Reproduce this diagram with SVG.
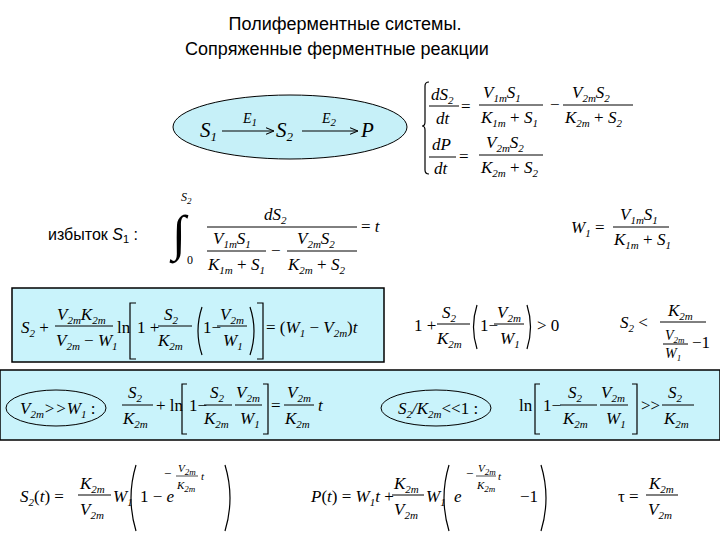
<svg xmlns="http://www.w3.org/2000/svg" width="720" height="540" viewBox="0 0 720 540">
<defs>
<style>
text{font-family:"Liberation Serif",serif;font-size:17px;fill:#000}
.i{font-style:italic}
.s{font-size:11px}
.ss{font-size:9px}
.sm{font-size:13px}
.t{font-family:"Liberation Sans",Arial,sans-serif;font-size:18px}
.fl{stroke:#000;stroke-width:1;fill:none}
.br{stroke:#000;stroke-width:1.2;fill:none}
.bx{fill:#c9f3fb;stroke:#000;stroke-width:1.5}
</style>
<marker id="ar" viewBox="0 0 10 10" refX="10" refY="5" markerWidth="8" markerHeight="8" orient="auto"><path d="M0,1 L10,5 L0,9" fill="none" stroke="#000" stroke-width="1.3"/></marker>
</defs>
<rect width="720" height="540" fill="#fff"/>
<g id="title">
<text class="t" x="345" y="30" text-anchor="middle">Полиферментные системы.</text>
<text class="t" x="337" y="55" text-anchor="middle">Сопряженные ферментные реакции</text>
</g>
<g id="scheme">
<ellipse cx="290" cy="127" rx="117" ry="32" fill="#c6f0f8" stroke="#000"/>
<text class="i" x="200" y="137" style="font-size:21px">S<tspan class="sm" dy="4">1</tspan></text>
<text class="i" x="276" y="137" style="font-size:21px">S<tspan class="sm" dy="4">2</tspan></text>
<text class="i" x="361" y="137" style="font-size:21px">P</text>
<text class="i" x="243" y="123" style="font-size:14px">E<tspan class="s" dy="3">1</tspan></text>
<text class="i" x="322" y="123" style="font-size:14px">E<tspan class="s" dy="3">2</tspan></text>
</g>
<g id="connectors">
<line x1="222" y1="131" x2="274" y2="131" stroke="#000" marker-end="url(#ar)"/>
<line x1="302" y1="131" x2="358" y2="131" stroke="#000" marker-end="url(#ar)"/>
</g>
<g id="system">
<path class="br" d="M429,82 q-4,0 -4,4 v36 q0,4 -3,4 q3,0 3,4 v40 q0,4 4,4"/>
<text class="i" x="431" y="100">dS<tspan class="s" dy="4">2</tspan></text>
<line class="fl" x1="429" y1="106" x2="459" y2="106"/>
<text class="i" x="436" y="124">dt</text>
<text x="461" y="112">=</text>
<text class="i" x="483" y="98">V<tspan class="s" dy="4">1m</tspan><tspan dy="-4">S</tspan><tspan class="s" dy="4">1</tspan></text>
<line class="fl" x1="479" y1="105" x2="543" y2="105"/>
<text class="i" x="481" y="123">K<tspan class="s" dy="4">1m</tspan><tspan dy="-4" style="font-style:normal"> + </tspan><tspan>S</tspan><tspan class="s" dy="4">1</tspan></text>
<text x="550" y="110">−</text>
<text class="i" x="572" y="98">V<tspan class="s" dy="4">2m</tspan><tspan dy="-4">S</tspan><tspan class="s" dy="4">2</tspan></text>
<line class="fl" x1="563" y1="105" x2="633" y2="105"/>
<text class="i" x="565" y="123">K<tspan class="s" dy="4">2m</tspan><tspan dy="-4" style="font-style:normal"> + </tspan><tspan>S</tspan><tspan class="s" dy="4">2</tspan></text>
<text class="i" x="432" y="150">dP</text>
<line class="fl" x1="429" y1="157" x2="456" y2="157"/>
<text class="i" x="434" y="174">dt</text>
<text x="459" y="162">=</text>
<text class="i" x="486" y="148">V<tspan class="s" dy="4">2m</tspan><tspan dy="-4">S</tspan><tspan class="s" dy="4">2</tspan></text>
<line class="fl" x1="479" y1="155" x2="543" y2="155"/>
<text class="i" x="481" y="173">K<tspan class="s" dy="4">2m</tspan><tspan dy="-4" style="font-style:normal"> + </tspan><tspan>S</tspan><tspan class="s" dy="4">2</tspan></text>
</g>
<g id="integral">
<text class="t" x="48" y="240" style="font-size:16px">избыток <tspan font-style="italic">S</tspan><tspan class="s" dy="3">1</tspan><tspan dy="-3"> :</tspan></text>
<text x="172" y="250" style="font-size:50px">∫</text>
<text class="i" x="181" y="201" style="font-size:12px">S<tspan class="ss" dy="3">2</tspan></text>
<text x="187" y="264" style="font-size:12px">0</text>
<text class="i" x="264" y="220">dS<tspan class="s" dy="4">2</tspan></text>
<line class="fl" x1="207" y1="227" x2="357" y2="227"/>
<text class="i" x="213" y="244">V<tspan class="s" dy="4">1m</tspan><tspan dy="-4">S</tspan><tspan class="s" dy="4">1</tspan></text>
<line class="fl" x1="207" y1="251" x2="266" y2="251"/>
<text class="i" x="208" y="270">K<tspan class="s" dy="4">1m</tspan><tspan dy="-4" style="font-style:normal"> + </tspan><tspan>S</tspan><tspan class="s" dy="4">1</tspan></text>
<text x="271" y="256">−</text>
<text class="i" x="297" y="244">V<tspan class="s" dy="4">2m</tspan><tspan dy="-4">S</tspan><tspan class="s" dy="4">2</tspan></text>
<line class="fl" x1="287" y1="251" x2="357" y2="251"/>
<text class="i" x="288" y="270">K<tspan class="s" dy="4">2m</tspan><tspan dy="-4" style="font-style:normal"> + </tspan><tspan>S</tspan><tspan class="s" dy="4">2</tspan></text>
<text x="361" y="232">= <tspan class="i">t</tspan></text>
</g>
<g id="w1">
<text class="i" x="571" y="233">W<tspan class="s" dy="4">1</tspan><tspan dy="-4" style="font-style:normal"> =</tspan></text>
<text class="i" x="620" y="220">V<tspan class="s" dy="4">1m</tspan><tspan dy="-4">S</tspan><tspan class="s" dy="4">1</tspan></text>
<line class="fl" x1="613" y1="227" x2="669" y2="227"/>
<text class="i" x="614" y="245">K<tspan class="s" dy="4">1m</tspan><tspan dy="-4" style="font-style:normal"> + </tspan><tspan>S</tspan><tspan class="s" dy="4">1</tspan></text>
</g>
<g id="box1">
<rect class="bx" x="12" y="288" width="372" height="74"/>
<text class="i" x="21" y="333">S<tspan class="s" dy="4">2</tspan><tspan dy="-4" style="font-style:normal"> +</tspan></text>
<text class="i" x="57" y="320">V<tspan class="s" dy="4">2m</tspan><tspan dy="-4">K</tspan><tspan class="s" dy="4">2m</tspan></text>
<line class="fl" x1="55" y1="326" x2="113" y2="326"/>
<text class="i" x="56" y="346">V<tspan class="s" dy="4">2m</tspan><tspan dy="-4" style="font-style:normal"> − </tspan><tspan>W</tspan><tspan class="s" dy="4">1</tspan></text>
<text x="117" y="333">ln</text>
<path class="br" d="M136,303 h-6 v56 h6"/>
<text x="137" y="333">1 +</text>
<text class="i" x="164" y="320">S<tspan class="s" dy="4">2</tspan></text>
<line class="fl" x1="158" y1="326" x2="192" y2="326"/>
<text class="i" x="158" y="346">K<tspan class="s" dy="4">2m</tspan></text>
<path class="br" d="M202,307 q-8,24 0,48"/>
<text x="203" y="333">1−</text>
<text class="i" x="220" y="320">V<tspan class="s" dy="4">2m</tspan></text>
<line class="fl" x1="217" y1="326" x2="247" y2="326"/>
<text class="i" x="223" y="346">W<tspan class="s" dy="4">1</tspan></text>
<path class="br" d="M250,307 q8,24 0,48"/>
<path class="br" d="M257,303 h6 v56 h-6"/>
<text x="266" y="333">= (<tspan class="i">W</tspan><tspan class="s i" dy="4">1</tspan><tspan dy="-4"> − </tspan><tspan class="i">V</tspan><tspan class="s i" dy="4">2m</tspan><tspan dy="-4">)</tspan><tspan class="i">t</tspan></text>
</g>
<g id="condition">
<text x="414" y="331">1 +</text>
<text class="i" x="442" y="318">S<tspan class="s" dy="4">2</tspan></text>
<line class="fl" x1="437" y1="324" x2="470" y2="324"/>
<text class="i" x="437" y="344">K<tspan class="s" dy="4">2m</tspan></text>
<path class="br" d="M477,305 q-7,22 0,44"/>
<text x="480" y="331">1−</text>
<text class="i" x="497" y="318">V<tspan class="s" dy="4">2m</tspan></text>
<line class="fl" x1="494" y1="324" x2="524" y2="324"/>
<text class="i" x="500" y="344">W<tspan class="s" dy="4">1</tspan></text>
<path class="br" d="M527,305 q7,22 0,44"/>
<text x="537" y="331">&gt; 0</text>
<text class="i" x="620" y="328">S<tspan class="s" dy="4">2</tspan><tspan dy="-4" style="font-style:normal"> &lt;</tspan></text>
<text class="i" x="668" y="316">K<tspan class="s" dy="4">2m</tspan></text>
<line class="fl" x1="660" y1="322" x2="706" y2="322"/>
<text class="i" x="665" y="340" style="font-size:14px">V<tspan class="ss" dy="3">2m</tspan></text>
<line class="fl" x1="663" y1="344" x2="688" y2="344"/>
<text x="692" y="348">−1</text>
<text class="i" x="665" y="358" style="font-size:14px">W<tspan class="ss" dy="3">1</tspan></text>
</g>
<g id="band">
<rect class="bx" x="0" y="370" width="720" height="70"/>
<ellipse cx="56" cy="408" rx="50" ry="18" fill="none" stroke="#000"/>
<text class="i" x="20" y="414">V<tspan class="s" dy="4">2m</tspan><tspan dy="-4">&gt;&gt;W</tspan><tspan class="s" dy="4">1</tspan><tspan dy="-4" style="font-style:normal"> :</tspan></text>
<text class="i" x="128" y="398">S<tspan class="s" dy="4">2</tspan></text>
<line class="fl" x1="122" y1="405" x2="153" y2="405"/>
<text class="i" x="123" y="424">K<tspan class="s" dy="4">2m</tspan></text>
<text x="156" y="411">+ ln</text>
<path class="br" d="M187,384 h-5 v50 h5"/>
<text x="189" y="411">1−</text>
<text class="i" x="210" y="398">S<tspan class="s" dy="4">2</tspan></text>
<line class="fl" x1="204" y1="405" x2="232" y2="405"/>
<text class="i" x="204" y="424">K<tspan class="s" dy="4">2m</tspan></text>
<text class="i" x="236" y="398">V<tspan class="s" dy="4">2m</tspan></text>
<line class="fl" x1="235" y1="405" x2="262" y2="405"/>
<text class="i" x="240" y="424">W<tspan class="s" dy="4">1</tspan></text>
<path class="br" d="M263,384 h5 v50 h-5"/>
<text x="271" y="411">=</text>
<text class="i" x="287" y="398">V<tspan class="s" dy="4">2m</tspan></text>
<line class="fl" x1="284" y1="405" x2="314" y2="405"/>
<text class="i" x="285" y="424">K<tspan class="s" dy="4">2m</tspan></text>
<text class="i" x="318" y="411">t</text>
<ellipse cx="436" cy="408" rx="55" ry="18" fill="none" stroke="#000"/>
<text class="i" x="398" y="414">S<tspan class="s" dy="4">2</tspan><tspan dy="-4">/K</tspan><tspan class="s" dy="4">2m</tspan><tspan dy="-4" style="font-style:normal">&lt;&lt;1 :</tspan></text>
<text x="519" y="411">ln</text>
<path class="br" d="M540,384 h-5 v50 h5"/>
<text x="543" y="411">1−</text>
<text class="i" x="568" y="398">S<tspan class="s" dy="4">2</tspan></text>
<line class="fl" x1="560" y1="405" x2="597" y2="405"/>
<text class="i" x="563" y="424">K<tspan class="s" dy="4">2m</tspan></text>
<text class="i" x="601" y="398">V<tspan class="s" dy="4">2m</tspan></text>
<line class="fl" x1="600" y1="405" x2="628" y2="405"/>
<text class="i" x="606" y="424">W<tspan class="s" dy="4">1</tspan></text>
<path class="br" d="M632,384 h5 v50 h-5"/>
<text x="641" y="411">&gt;&gt;</text>
<text class="i" x="668" y="398">S<tspan class="s" dy="4">2</tspan></text>
<line class="fl" x1="662" y1="405" x2="694" y2="405"/>
<text class="i" x="664" y="424">K<tspan class="s" dy="4">2m</tspan></text>
</g>
<g id="solutions">
<text class="i" x="20" y="502">S<tspan class="s" dy="4">2</tspan><tspan dy="-4" style="font-style:normal">(</tspan><tspan>t</tspan><tspan style="font-style:normal">) =</tspan></text>
<text class="i" x="80" y="489">K<tspan class="s" dy="4">2m</tspan></text>
<line class="fl" x1="78" y1="495" x2="111" y2="495"/>
<text class="i" x="80" y="515">V<tspan class="s" dy="4">2m</tspan></text>
<text class="i" x="113" y="502">W<tspan class="s" dy="4">1</tspan></text>
<path class="br" d="M136,465 q-10,33 0,66"/>
<text x="140" y="502">1 − <tspan class="i">e</tspan></text>
<text x="164" y="478" style="font-size:13px">−</text>
<text class="i" x="178" y="472" style="font-size:11px">V<tspan class="ss" dy="3">2m</tspan></text>
<line class="fl" x1="176" y1="476" x2="198" y2="476" style="stroke-width:.7"/>
<text class="i" x="177" y="489" style="font-size:11px">K<tspan class="ss" dy="3">2m</tspan></text>
<text class="i" x="201" y="480" style="font-size:11px">t</text>
<path class="br" d="M225,465 q10,33 0,66"/>
<text class="i" x="311" y="502">P<tspan style="font-style:normal">(</tspan>t<tspan style="font-style:normal">) = </tspan>W<tspan class="s" dy="4">1</tspan><tspan dy="-4">t</tspan><tspan style="font-style:normal"> +</tspan></text>
<text class="i" x="394" y="489">K<tspan class="s" dy="4">2m</tspan></text>
<line class="fl" x1="392" y1="495" x2="424" y2="495"/>
<text class="i" x="394" y="515">V<tspan class="s" dy="4">2m</tspan></text>
<text class="i" x="426" y="502">W<tspan class="s" dy="4">1</tspan></text>
<path class="br" d="M449,465 q-10,33 0,66"/>
<text class="i" x="454" y="502">e</text>
<text x="466" y="478" style="font-size:13px">−</text>
<text class="i" x="478" y="472" style="font-size:11px">V<tspan class="ss" dy="3">2m</tspan></text>
<line class="fl" x1="476" y1="476" x2="496" y2="476" style="stroke-width:.7"/>
<text class="i" x="477" y="489" style="font-size:11px">K<tspan class="ss" dy="3">2m</tspan></text>
<text class="i" x="498" y="480" style="font-size:11px">t</text>
<text x="520" y="502">−1</text>
<path class="br" d="M541,465 q10,33 0,66"/>
<text x="618" y="502">τ =</text>
<text class="i" x="649" y="489">K<tspan class="s" dy="4">2m</tspan></text>
<line class="fl" x1="646" y1="495" x2="678" y2="495"/>
<text class="i" x="648" y="515">V<tspan class="s" dy="4">2m</tspan></text>
</g>
</svg>
